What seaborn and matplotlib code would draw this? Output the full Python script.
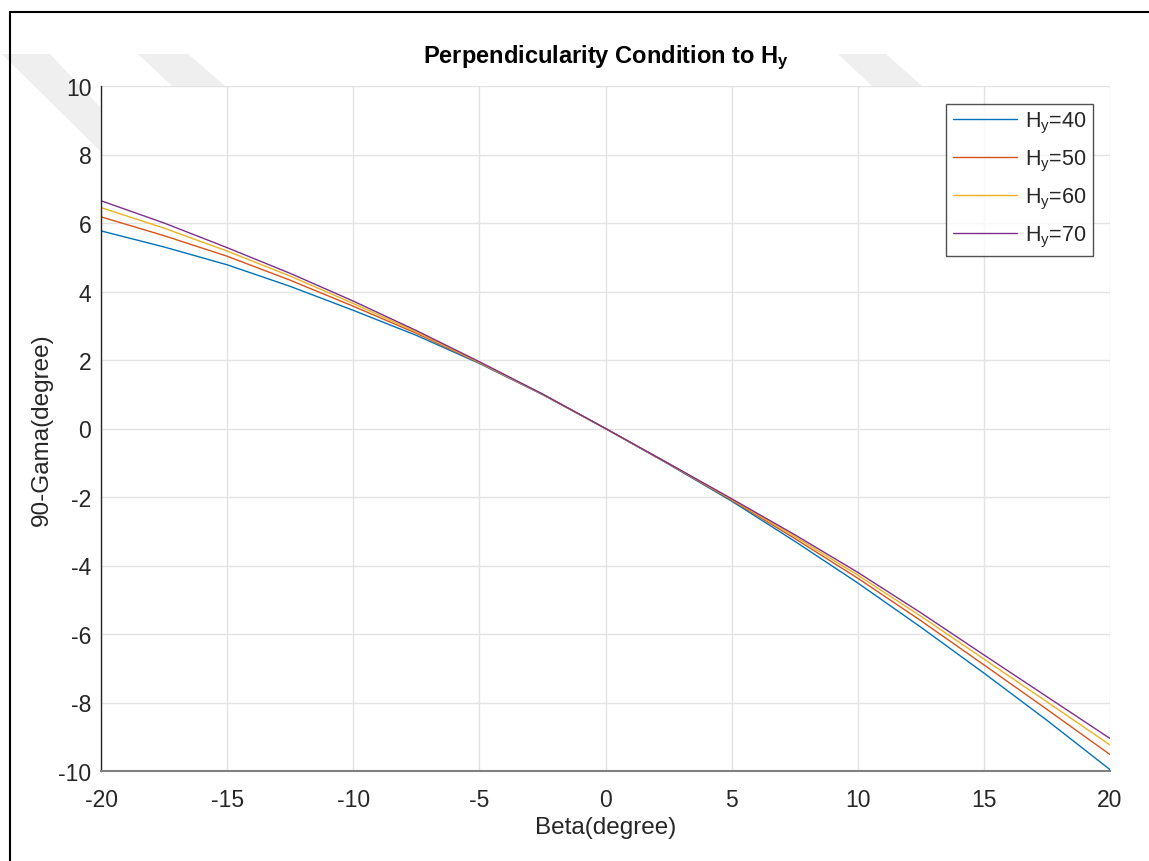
import matplotlib
matplotlib.use("Agg")
import matplotlib.pyplot as plt
import pandas as pd
import seaborn as sns
from matplotlib.lines import Line2D
from matplotlib.patches import Polygon

# Data
beta = [-20, -17.5, -15, -12.5, -10, -7.5, -5, -2.5, 0, 2.5, 5, 7.5, 10, 12.5, 15, 17.5, 20]
hy_40 = [5.77, 5.30, 4.78, 4.15, 3.45, 2.72, 1.90, 0.99, 0, -1.04, -2.12, -3.29, -4.51, -5.80, -7.14, -8.52, -9.96]
hy_50 = [6.18, 5.63, 5.03, 4.33, 3.57, 2.78, 1.92, 1.00, 0, -1.03, -2.09, -3.21, -4.37, -5.61, -6.90, -8.20, -9.52]
hy_60 = [6.45, 5.85, 5.18, 4.45, 3.65, 2.82, 1.93, 1.00, 0, -1.02, -2.07, -3.15, -4.28, -5.48, -6.73, -7.98, -9.24]
hy_70 = [6.65, 6.00, 5.28, 4.53, 3.72, 2.86, 1.95, 1.01, 0, -1.02, -2.05, -3.10, -4.20, -5.38, -6.61, -7.83, -9.05]
labels = ["H$_\\mathregular{y}$=40", "H$_\\mathregular{y}$=50",
          "H$_\\mathregular{y}$=60", "H$_\\mathregular{y}$=70"]
colors = ["#0072BD", "#D95319", "#EDB120", "#7E2F8E"]

frames = []
for lab, vals in zip(labels, [hy_40, hy_50, hy_60, hy_70]):
    frames.append(pd.DataFrame({"beta": beta, "gama": vals, "series": lab}))
df = pd.concat(frames, ignore_index=True)

sns.set_theme(style="white")
plt.rcParams["font.family"] = ["Liberation Sans", "DejaVu Sans"]
plt.rcParams["mathtext.fontset"] = "custom"
plt.rcParams["mathtext.rm"] = "Liberation Sans"
plt.rcParams["mathtext.bf"] = "Liberation Sans:bold"
plt.rcParams["mathtext.it"] = "Liberation Sans:italic"
plt.rcParams["axes.unicode_minus"] = False

W, H = 1149, 862
fig = plt.figure(figsize=(W / 100, H / 100), dpi=100)

ax = fig.add_axes([101 / W, 1 - 772 / H, 1009 / W, 685 / H])
ax.set_zorder(2)

# faint watermark bands behind the axes
bands = [[(2, 55), (50, 55), (100, 108), (100, 152)],
         [(138, 55), (188, 55), (225, 87), (172, 87)],
         [(838, 55), (886, 55), (922, 87), (872, 87)]]
for pts in bands:
    fig.patches.append(Polygon([(px / W, 1 - py / H) for px, py in pts],
                               closed=True, transform=fig.transFigure,
                               facecolor="#efefef", edgecolor="none", zorder=-1))

sns.lineplot(data=df, x="beta", y="gama", hue="series", palette=colors,
             estimator=None, sort=False, linewidth=1.0, ax=ax)

ax.set_xlim(-20, 20)
ax.set_ylim(-10, 10)
ax.set_xticks(range(-20, 21, 5))
ax.set_yticks(range(-10, 11, 2))
ax.grid(True, color="#e3e3e3", linewidth=1.0)
ax.set_axisbelow(True)

for side in ["top", "right"]:
    ax.spines[side].set_visible(False)
ax.spines["left"].set_color("#262626")
ax.spines["left"].set_linewidth(1.0)
ax.spines["bottom"].set_color("#808080")
ax.spines["bottom"].set_linewidth(1.5)
ax.tick_params(axis="both", direction="in", length=7.5, width=1.5,
               color="#262626", labelsize=16.5, labelcolor="#262626")
ax.tick_params(axis="y", pad=7)
ax.tick_params(axis="x", pad=12)

ax.set_xlabel("Beta(degree)", fontsize=17.5, color="#262626", labelpad=4)
ax.set_ylabel("90-Gama(degree)", fontsize=17.5, color="#262626", labelpad=4)
ax.set_title("Perpendicularity Condition to H$_\\mathbf{y}$", fontsize=17,
             fontweight="bold", color="black", pad=17)

leg = ax.legend(loc="upper right", bbox_to_anchor=(0.983, 0.974),
                borderaxespad=0, fontsize=15.5, frameon=True, fancybox=False,
                handlelength=3.0, handletextpad=0.35, labelspacing=0.6,
                borderpad=0.3)
leg.get_frame().set_edgecolor("#262626")
leg.get_frame().set_linewidth(1.0)

# frame lines around the page (left and top)
fig.add_artist(Line2D([10 / W, 10 / W], [0, 1 - 13 / H],
                      color="black", linewidth=1.5, transform=fig.transFigure))
fig.add_artist(Line2D([10 / W, 1], [1 - 13 / H, 1 - 13 / H],
                      color="black", linewidth=1.5, transform=fig.transFigure))

fig.savefig("out.png", dpi=100)
